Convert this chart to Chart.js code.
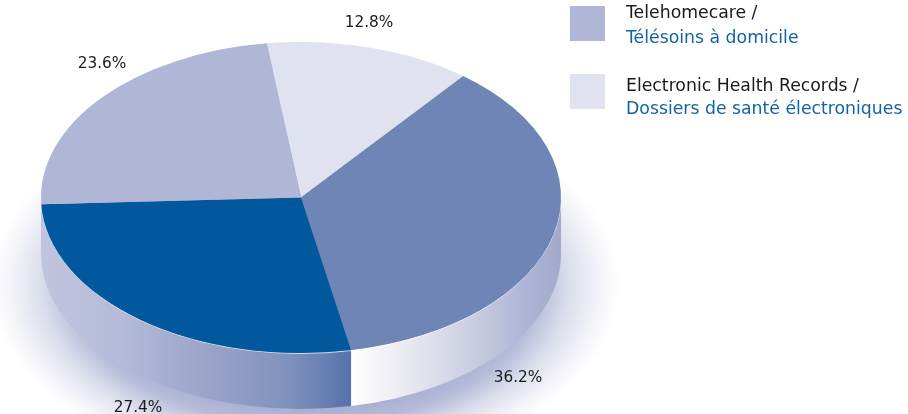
<!DOCTYPE html>
<html>
<head>
<meta charset="utf-8">
<style>
  html, body { margin: 0; padding: 0; background: #fff; }
  #wrap { position: relative; width: 908px; height: 414px; overflow: hidden; }
</style>
<script src="https://cdn.jsdelivr.net/npm/chart.js@4"></script>
</head>
<body>
<div id="wrap"><canvas id="pie" width="908" height="414"></canvas></div>
<script>
// Share of projects by type
const shareValues = [12.8, 36.2, 27.4, 23.6];
const shareLabels = ['12.8%', '36.2%', '27.4%', '23.6%'];
const sliceColors = ['#e1e2ef', '#6e85b6', '#02589c', '#afb6d6'];

const legendEnglish = ['Telehomecare /', 'Electronic Health Records /'];
const legendFrench = ['Télésoins à domicile', 'Dossiers de santé électroniques'];
const legendSwatches = ['#afb6d6', '#e1e2ef'];

// Disc proportions and label placement
const disc = { cx: 301, cy: 197.5, rx: 260, ry: 155.5, depth: 56 };
const labelAnchors = [[369, 21], [518, 376], [138, 406], [102, 62]];
const legendRows = [{ box: 6, first: 18, second: 43 }, { box: 74, first: 91, second: 114 }];
const FONT = '"DejaVu Sans", sans-serif';

// Fill the extruded rim between two ellipse angles with a left-to-right gradient
function drawRim(ctx, from, to, x0, x1, stops) {
  const g = ctx.createLinearGradient(x0, 0, x1, 0);
  stops.forEach(s => g.addColorStop(s[0], s[1]));
  ctx.beginPath();
  ctx.ellipse(disc.cx, disc.cy, disc.rx, disc.ry, 0, from, to, false);
  ctx.ellipse(disc.cx, disc.cy + disc.depth, disc.rx, disc.ry, 0, to, from, true);
  ctx.closePath();
  ctx.fillStyle = g;
  ctx.fill();
}

const discPlugin = {
  id: 'disc',
  beforeDatasetsDraw(chart) {
    const ctx = chart.ctx;
    const arcs = chart.getDatasetMeta(0).data;

    // soft shadow under the disc
    ctx.save();
    ctx.translate(305, 285);
    ctx.scale(1, 0.6);
    const glow = ctx.createRadialGradient(0, 0, 0, 0, 0, 315);
    glow.addColorStop(0, '#98a2cb');
    glow.addColorStop(0.6, '#a0a8cf');
    glow.addColorStop(0.74, '#b5bcd9');
    glow.addColorStop(0.84, '#dcdeec');
    glow.addColorStop(0.95, '#f7f7fb');
    glow.addColorStop(1, '#ffffff');
    ctx.fillStyle = glow;
    ctx.beginPath();
    ctx.arc(0, 0, 315, 0, Math.PI * 2);
    ctx.fill();
    ctx.restore();

    // rim: the seam falls where the second slice ends
    const seam = arcs[1].endAngle;
    const seamX = disc.cx + disc.rx * Math.cos(seam);
    drawRim(ctx, 0, seam, seamX, disc.cx + disc.rx, [
      [0, '#ffffff'], [0.3, '#e6e6ee'], [0.6, '#c8cce1'], [0.8, '#b1b7d7'], [1, '#a2a9cc']
    ]);
    drawRim(ctx, seam, Math.PI, disc.cx - disc.rx, seamX, [
      [0, '#c0c4de'], [0.25, '#b6bbd9'], [0.55, '#99a3c8'], [0.8, '#7f91bd'], [1, '#5672aa']
    ]);

    // pale highlight where the top face meets the rim
    ctx.beginPath();
    ctx.ellipse(disc.cx, disc.cy, disc.rx, disc.ry + 0.5, 0, 0, Math.PI);
    ctx.strokeStyle = 'rgba(255,255,255,0.7)';
    ctx.lineWidth = 1;
    ctx.stroke();

    // flatten the circular arcs into the tilted disc
    ctx.save();
    const a = arcs[0];
    ctx.translate(disc.cx, disc.cy);
    ctx.scale(disc.rx / a.outerRadius, disc.ry / a.outerRadius);
    ctx.translate(-a.x, -a.y);
  },
  afterDatasetsDraw(chart) {
    const ctx = chart.ctx;
    ctx.restore();

    ctx.textBaseline = 'alphabetic';
    ctx.font = '15.3px ' + FONT;
    ctx.fillStyle = '#1a1a1a';
    ctx.textAlign = 'center';
    shareLabels.forEach((t, i) => ctx.fillText(t, labelAnchors[i][0], labelAnchors[i][1] + 6));

    ctx.textAlign = 'left';
    legendRows.forEach((row, i) => {
      ctx.fillStyle = legendSwatches[i];
      ctx.fillRect(570, row.box, 35, 35);
      ctx.font = '17.3px ' + FONT;
      ctx.fillStyle = '#1a1a1a';
      ctx.fillText(legendEnglish[i], 626, row.first);
      ctx.fillStyle = '#1464a5';
      ctx.fillText(legendFrench[i], 626, row.second);
    });
  }
};

new Chart(document.getElementById('pie'), {
  type: 'pie',
  data: {
    labels: shareLabels,
    datasets: [{ data: shareValues, backgroundColor: sliceColors, borderWidth: 0 }]
  },
  options: {
    responsive: false,
    animation: false,
    rotation: -7.5,
    layout: { padding: { right: 306, bottom: 20 } },
    plugins: { legend: { display: false }, tooltip: { enabled: false } }
  },
  plugins: [discPlugin]
});
</script>
</body>
</html>
